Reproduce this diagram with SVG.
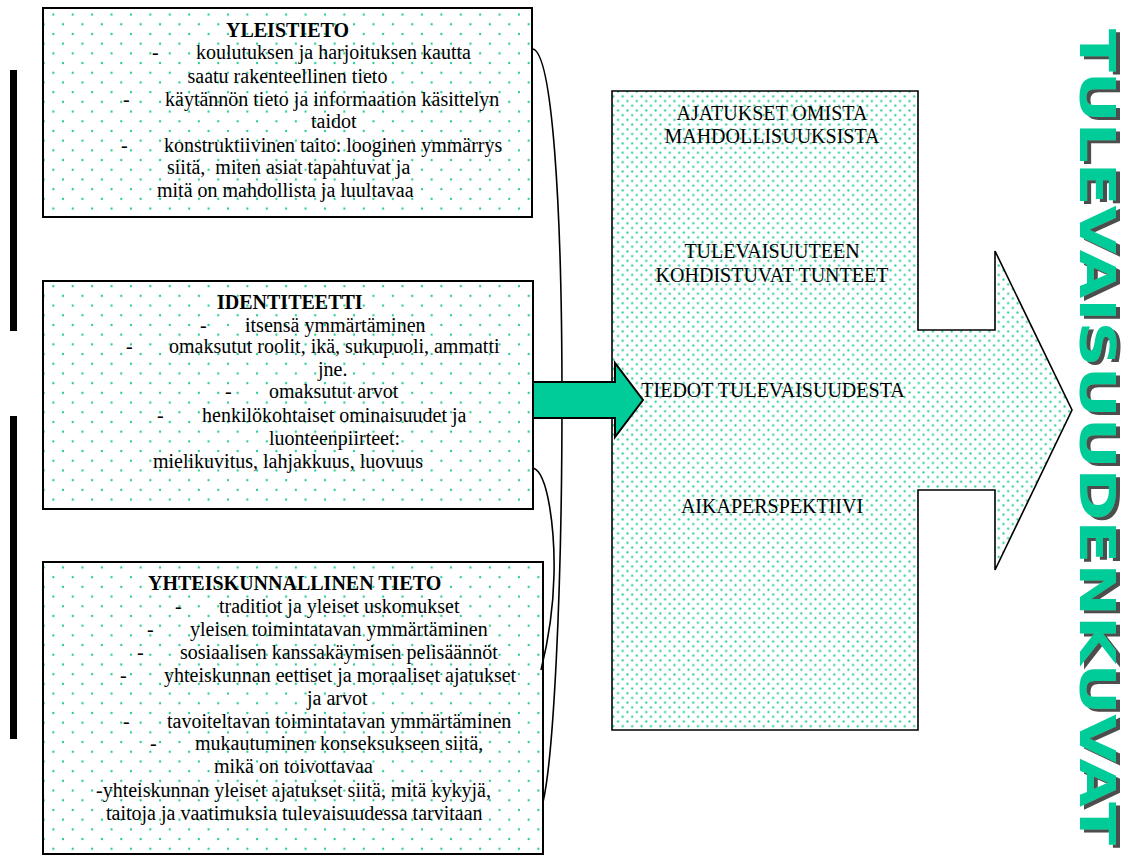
<svg xmlns="http://www.w3.org/2000/svg" width="1127" height="859" viewBox="0 0 1127 859">
<style>
.t{font-family:"Liberation Serif","Times New Roman","DejaVu Serif",serif;font-size:20px;fill:#000}
.b{font-weight:bold}
.c{text-anchor:middle}
.box{fill:url(#dotsA);stroke:#000;stroke-width:2}
.big{fill:url(#dotsB);stroke:#000;stroke-width:1.6;stroke-linejoin:miter}
.conn{fill:none;stroke:#000;stroke-width:1.6}
.bar{fill:#000}
.vt{font-family:"DejaVu Sans","Liberation Sans",sans-serif;font-weight:bold;font-size:50px;fill:#00CC99}
</style>
<defs>
<pattern id="dotsA" width="19.4" height="19.4" patternUnits="userSpaceOnUse">
<rect width="19.4" height="19.4" fill="#fff"/>
<circle cx="4.85" cy="4.85" r="1.15" fill="#22CC99"/>
<circle cx="14.55" cy="14.55" r="1.15" fill="#22CC99"/>
</pattern>
<pattern id="dotsB" width="9.4" height="9.4" patternUnits="userSpaceOnUse">
<rect width="9.4" height="9.4" fill="#fff"/>
<circle cx="2.35" cy="2.35" r="1.1" fill="#22CC99"/>
<circle cx="7.05" cy="7.05" r="1.1" fill="#22CC99"/>
</pattern>
<filter id="shadow" x="-10%" y="-5%" width="130%" height="110%">
<feOffset in="SourceAlpha" dx="4" dy="3" result="off"/>
<feFlood flood-color="#4D4D4D" result="col"/>
<feComposite in="col" in2="off" operator="in" result="sh"/>
<feMerge><feMergeNode in="sh"/><feMergeNode in="SourceGraphic"/></feMerge>
</filter>
</defs>
<rect width="1127" height="859" fill="#fff"/>

<g id="bars">
<rect class="bar" x="10" y="70" width="7" height="261"/>
<rect class="bar" x="10" y="416" width="7" height="323"/>
</g>

<g id="yleistieto">
<rect class="box" x="43" y="8" width="489" height="209"/>
<text class="t b" x="226" y="37">YLEISTIETO</text>
<text class="t" y="59"><tspan x="152">-</tspan><tspan x="196">koulutuksen ja harjoituksen kautta</tspan></text>
<text class="t" x="187.5" y="83">saatu rakenteellinen tieto</text>
<text class="t" y="106"><tspan x="123">-</tspan><tspan x="165">käytännön tieto ja informaation käsittelyn</tspan></text>
<text class="t" x="311" y="128">taidot</text>
<text class="t" y="152"><tspan x="121">-</tspan><tspan x="164">konstruktiivinen taito: looginen ymmärrys</tspan></text>
<text class="t" x="167" y="174">siitä,&#160; miten asiat tapahtuvat ja</text>
<text class="t" x="157" y="197">mitä on mahdollista ja luultavaa</text>
</g>

<g id="identiteetti">
<rect class="box" x="43" y="281" width="490" height="228"/>
<text class="t b" x="217" y="309">IDENTITEETTI</text>
<text class="t" y="332"><tspan x="200">-</tspan><tspan x="245">itsensä ymmärtäminen</tspan></text>
<text class="t" y="353"><tspan x="126">-</tspan><tspan x="169">omaksutut roolit, ikä, sukupuoli, ammatti</tspan></text>
<text class="t" x="318" y="376">jne.</text>
<text class="t" y="398"><tspan x="225">-</tspan><tspan x="269">omaksutut arvot</tspan></text>
<text class="t" y="422"><tspan x="157">-</tspan><tspan x="202">henkilökohtaiset ominaisuudet ja</tspan></text>
<text class="t" x="269" y="445">luonteenpiirteet:</text>
<text class="t" x="153" y="468">mielikuvitus, lahjakkuus, luovuus</text>
</g>

<g id="yhteiskunnallinen">
<rect class="box" x="43" y="562" width="500" height="292"/>
<text class="t b" x="148" y="590">YHTEISKUNNALLINEN TIETO</text>
<text class="t" y="613"><tspan x="175">-</tspan><tspan x="219">traditiot ja yleiset uskomukset</tspan></text>
<text class="t" y="636"><tspan x="147">-</tspan><tspan x="190">yleisen toimintatavan ymmärtäminen</tspan></text>
<text class="t" y="659"><tspan x="137">-</tspan><tspan x="180">sosiaalisen kanssakäymisen pelisäännöt</tspan></text>
<text class="t" y="682"><tspan x="120">-</tspan><tspan x="164">yhteiskunnan eettiset ja moraaliset ajatukset</tspan></text>
<text class="t" x="307" y="705">ja arvot</text>
<text class="t" y="728"><tspan x="123">-</tspan><tspan x="167">tavoiteltavan toimintatavan ymmärtäminen</tspan></text>
<text class="t" y="750"><tspan x="150">-</tspan><tspan x="195">mukautuminen konseksukseen siitä,</tspan></text>
<text class="t" x="214" y="773">mikä on toivottavaa</text>
<text class="t" x="96" y="797">-yhteiskunnan yleiset ajatukset siitä, mitä kykyjä,</text>
<text class="t" x="106" y="820">taitoja ja vaatimuksia tulevaisuudessa tarvitaan</text>
</g>

<g id="tulevaisuudenkuva-arrow">
<polygon class="big" points="612,91 918,91 918,330 995,330 995,251 1072,410 995,570 995,490 918,490 918,730 612,730"/>
<text class="t c" x="772" y="120">AJATUKSET OMISTA</text>
<text class="t c" x="772" y="143">MAHDOLLISUUKSISTA</text>
<text class="t c" x="772" y="258">TULEVAISUUTEEN</text>
<text class="t c" x="772" y="282">KOHDISTUVAT TUNTEET</text>
<text class="t c" x="773" y="397">TIEDOT TULEVAISUUDESTA</text>
<text class="t c" x="772" y="513">AIKAPERSPEKTIIVI</text>
</g>

<g id="connectors">
<path class="conn" d="M533,49 C552,54 562,200 562,400 C562,600 553,760 543,802"/>
<path class="conn" d="M533,468 C548,472 555,530 554,575 C553,620 546,650 541,670"/>
<polygon points="533,382 615,382 615,363 643,400 615,437 615,418 533,418" fill="#00CC99" stroke="#000" stroke-width="2"/>
</g>

<g id="title" filter="url(#shadow)">
<text class="vt" transform="translate(1080,29) rotate(90)" textLength="816" lengthAdjust="spacingAndGlyphs">TULEVAISUUDENKUVAT</text>
</g>
</svg>
